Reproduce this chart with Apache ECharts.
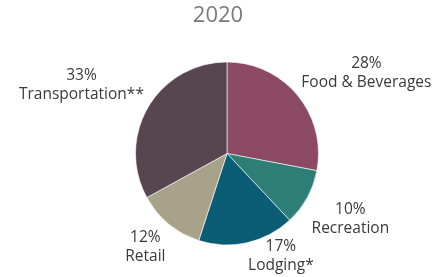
<!DOCTYPE html>
<html>
<head>
<meta charset="utf-8">
<script src="https://cdn.jsdelivr.net/npm/echarts@6/dist/echarts.min.js"></script>
<style>
	html, body { margin: 0; padding: 0; background: #fff; }
	#chart { width: 436px; height: 277px; }
</style>
</head>
<body>
<div id="chart"></div>
<script>
var titleText = '2020';
var categories = ['Food & Beverages', 'Recreation', 'Lodging*', 'Retail', 'Transportation**'];
var shares = [28, 10, 17, 12, 33];
var colors = ['#8b4963', '#2d7e76', '#0b5c75', '#a8a28b', '#57454f'];

var chart = echarts.init(document.getElementById('chart'));

var pieData = categories.map(function(name, i) {
	return {
		name: name,
		value: shares[i],
		itemStyle: { color: colors[i] }
	};
});

chart.setOption({
	animation: false,
	title: {
		text: titleText,
		left: 'center',
		top: 0,
		textStyle: {
			fontFamily: 'Open Sans',
			fontSize: 22,
			fontWeight: 'normal',
			color: '#7a7a7a'
		}
	},
	series: [{
		type: 'pie',
		center: [227, 153.5],
		radius: 91.5,
		startAngle: 90,
		avoidLabelOverlap: false,
		itemStyle: {
			borderColor: '#ffffff',
			borderWidth: 0.6
		},
		label: {
			show: true,
			position: 'outside',
			formatter: '{d}%\n{b}',
			fontFamily: 'Open Sans',
			fontSize: 15.5,
			lineHeight: 19,
			color: '#3a3a3a'
		},
		// keep the guide line only so the label corner can sit on its end
		labelLine: {
			show: true,
			length: 5,
			length2: 0,
			lineStyle: { opacity: 0 }
		},
		labelLayout: function(p) {
			var a = p.labelLinePoints[0],
				b = p.labelLinePoints[1],
				w = p.labelRect.width,
				h = p.labelRect.height,
				H = chart.getHeight();
			var x = b[0] >= a[0] ? b[0] + w / 2 : b[0] - w / 2;
			var y = b[1] >= a[1] ? b[1] + h / 2 : b[1] - h / 2;
			y = Math.max(h / 2, Math.min(H - 2 - h / 2, y));
			return { x: x, y: y, align: 'center', verticalAlign: 'middle' };
		},
		data: pieData
	}]
});
</script>
</body>
</html>
